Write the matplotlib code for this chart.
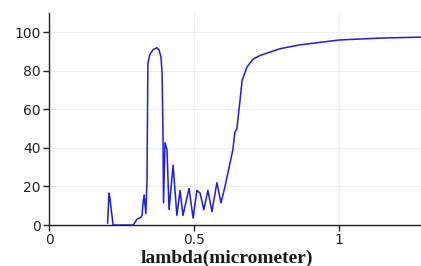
import matplotlib
matplotlib.use("Agg")
import matplotlib.pyplot as plt

# wavelength (micrometer) and transmission values
lam = [0.202, 0.207, 0.210, 0.221, 0.290, 0.297, 0.303, 0.310, 0.317, 0.321,
       0.324, 0.328, 0.334, 0.338, 0.341, 0.348, 0.359, 0.372, 0.379, 0.386,
       0.390, 0.393, 0.395, 0.400, 0.407, 0.414, 0.428, 0.441, 0.452, 0.462,
       0.483, 0.497, 0.510, 0.521, 0.534, 0.548, 0.562, 0.579, 0.593, 0.607,
       0.634, 0.641, 0.648, 0.659, 0.666, 0.683, 0.703, 0.728, 0.797, 0.866,
       1.0, 1.141, 1.283]
trans = [1, 16.6, 14, 0, 0, 1.5, 3, 3.5, 4, 5,
         11, 15.6, 6, 23, 84, 88.5, 91, 92, 91, 87.5,
         79, 49, 11.5, 42.7, 39, 8, 31, 5, 18, 5,
         19, 3.6, 18, 16.6, 8, 18, 7, 22, 11.5, 20,
         39, 48, 50, 65, 75, 82, 86, 88, 91.5, 93.5,
         96, 97, 97.5]

xticks = [0, 0.5, 1]
xtick_labels = ["0", "0.5", "1"]
yticks = [0, 20, 40, 60, 80, 100]

fig = plt.figure(figsize=(4.21, 2.66), dpi=100)
ax = fig.add_axes([0.1164, 0.154, 0.8836, 0.797])

ax.plot(lam, trans, color="#1a1aff", linewidth=1.1)

ax.set_xlim(0, 1.283)
ax.set_ylim(0, 110)
ax.set_xticks(xticks)
ax.set_xticklabels(xtick_labels)
ax.set_yticks(yticks)
ax.grid(True, color="#eeeeee", linewidth=0.8)
ax.set_axisbelow(True)

for s in ["top", "right"]:
    ax.spines[s].set_visible(False)
for s in ["left", "bottom"]:
    ax.spines[s].set_color("#222222")
    ax.spines[s].set_linewidth(1.0)

ax.tick_params(direction="out", length=4, width=1, colors="#222222",
               labelsize=10, pad=2)

ax.set_xlabel("lambda(micrometer)", fontfamily="Liberation Serif",
              fontweight="bold", fontsize=14, color="#1a1a1a")
ax.xaxis.set_label_coords(0.477, -0.115)

fig.savefig("out.png", dpi=100)
